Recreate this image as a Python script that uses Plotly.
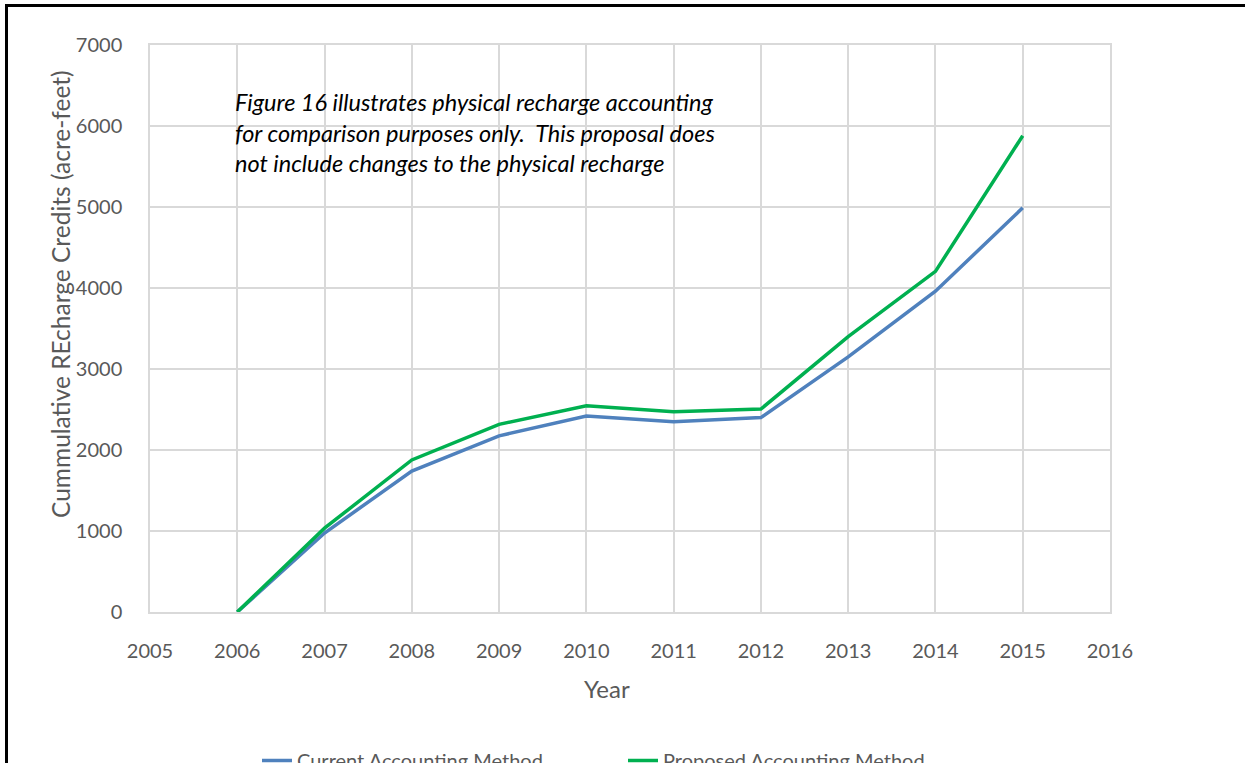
import plotly.graph_objects as go

years = [2006, 2007, 2008, 2009, 2010, 2011, 2012, 2013, 2014, 2015]
current_method = [0, 975, 1740, 2175, 2420, 2350, 2400, 3150, 3960, 4990]
proposed_method = [0, 1035, 1877, 2317, 2545, 2473, 2506, 3400, 4205, 5880]
series_names = ["Current Accounting Method", "Proposed Accounting Method"]
x_title = "Year"
y_title = "Cummulative REcharge Credits (acre-feet)"
note = ("Figure 16 illustrates physical recharge accounting<br>"
        "for comparison purposes only.  This proposal does<br>"
        "not include changes to the physical recharge")

W, H = 1245, 763
L, R, T, B = 150, 1110, 45, 612
FONT = "Lato"
GREY = "#595959"

def px_x(p):
    return (p - L) / (R - L)

def px_y(p):
    return (B - p) / (B - T)

fig = go.Figure()
fig.add_trace(go.Scatter(x=years, y=current_method, mode="lines", name=series_names[0],
                         line=dict(color="#4F81BD", width=3.5)))
fig.add_trace(go.Scatter(x=years, y=proposed_method, mode="lines", name=series_names[1],
                         line=dict(color="#00B050", width=3.5)))

grid = "#d9d9d9"
fig.update_layout(
    width=W, height=H,
    margin=dict(l=L, r=W - R, t=T, b=H - B, autoexpand=False),
    paper_bgcolor="white", plot_bgcolor="white",
    font=dict(family=FONT, color=GREY, size=20),
    showlegend=True,
    legend=dict(orientation="h", xref="container", yref="container",
                x=257 / W, xanchor="left", y=1 - 741 / H, yanchor="top",
                font=dict(size=20, color=GREY), entrywidth=321, entrywidthmode="pixels"),
    xaxis=dict(range=[2005, 2016], dtick=1, tick0=2005, showgrid=True, gridcolor=grid, gridwidth=1.5,
               zeroline=False, showline=True, linecolor=grid, linewidth=1.5, mirror=True,
               ticks="", ticklabelstandoff=20, tickfont=dict(size=20, color=GREY)),
    yaxis=dict(range=[0, 7000], dtick=1000, showgrid=True, gridcolor=grid, gridwidth=1.5,
               zeroline=False, showline=True, linecolor=grid, linewidth=1.5, mirror=True,
               ticks="", ticklabelstandoff=22, tickfont=dict(size=20, color=GREY)),
)

fig.add_annotation(text=x_title, xref="paper", yref="paper", x=px_x(607), y=px_y(688),
                   xanchor="center", yanchor="middle", showarrow=False,
                   font=dict(family=FONT, size=24, color=GREY))
fig.add_annotation(text=y_title, xref="paper", yref="paper", x=px_x(60), y=px_y(294),
                   xanchor="center", yanchor="middle", showarrow=False, textangle=-90,
                   font=dict(family=FONT, size=24.5, color=GREY))

fig.add_annotation(text=note, xref="paper", yref="paper", x=px_x(233), y=px_y(86),
                   xanchor="left", yanchor="top", align="left", showarrow=False,
                   font=dict(family=FONT, size=23.5, color="black", style="italic"))

fig.add_shape(type="line", xref="paper", yref="paper", x0=px_x(6.5), x1=px_x(6.5),
              y0=px_y(4), y1=px_y(770), line=dict(color="black", width=3))
fig.add_shape(type="line", xref="paper", yref="paper", x0=px_x(5), x1=px_x(1250),
              y0=px_y(5.5), y1=px_y(5.5), line=dict(color="black", width=3))

fig.write_html("out.html")
